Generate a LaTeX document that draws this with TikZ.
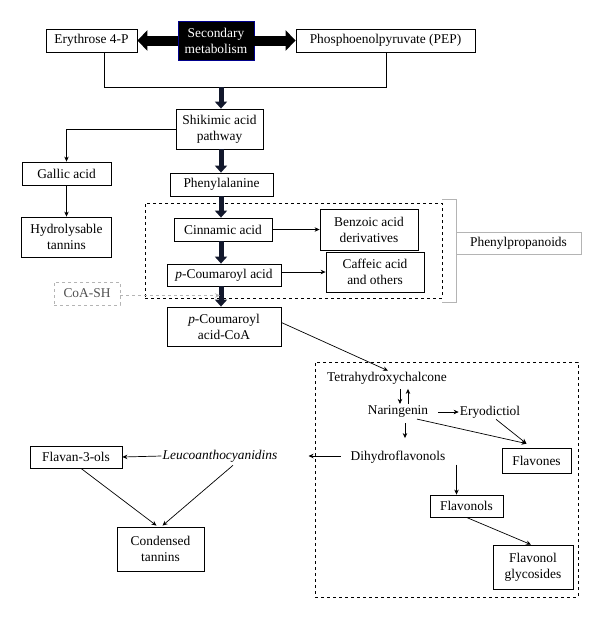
\documentclass[tikz,border=0pt]{standalone}
\usepackage{fontspec}
\setmainfont{Liberation Serif}
\usetikzlibrary{arrows.meta,calc}
\definecolor{navy}{RGB}{18,24,44}
\definecolor{lgray}{RGB}{180,180,180}
\definecolor{dgray}{RGB}{80,80,80}
\begin{document}
\begin{tikzpicture}[x=1pt,y=-1pt,
  font=\fontsize{13.4}{16}\selectfont,
  bx/.style={draw, line width=0.8pt, inner sep=0pt, align=center},
  lbl/.style={inner sep=1pt, align=center},
  arr/.style={-{Stealth[length=5pt,width=4.5pt]}, line width=0.7pt},
  fat/.style={line width=5pt, draw=navy, -{Triangle[length=7pt,width=12pt]}},
  huge/.style={line width=10pt, draw=black, -{Triangle[length=10pt,width=20pt]}},
  dbox/.style={draw, dashed, line width=0.7pt, inner sep=0pt}
]
\fill[white] (0,0) rectangle (600,619);
\useasboundingbox (0,0) rectangle (600,619);

% top row
\node[bx, minimum width=91pt, minimum height=23pt] (ery) at (91.5,40.5) {Erythrose 4-P};
\node[bx, minimum width=179pt, minimum height=23pt] (pep) at (385.5,40.5) {Phosphoenolpyruvate (PEP)};
\node[draw=blue!55!black, line width=0.8pt, fill=black, text=white, inner sep=0pt, align=center,
      minimum width=76pt, minimum height=39pt] (sec) at (216,40.5) {Secondary\\metabolism};
\draw[huge] (sec.west) -- (ery.east);
\draw[huge] (sec.east) -- (pep.west);

% join
\coordinate (jl) at (104,87);
\coordinate (jm) at (221,87);
\coordinate (jr) at (386,87);
\draw[line width=0.7pt] (jl |- ery.south) -- (jl) -- (jr) -- (jr |- pep.south);

\node[bx, minimum width=87pt, minimum height=40pt] (shik) at (219.5,129) {Shikimic acid\\pathway};
\draw[fat] (jm) -- (jm |- shik.north);

\node[bx, minimum width=89pt, minimum height=23pt] (gallic) at (66.5,173.5) {Gallic acid};
\node[bx, minimum width=90pt, minimum height=40pt] (hydro) at (66.5,237) {Hydrolysable\\tannins};
\draw[arr] (shik.west) -| (gallic.north);
\draw[arr] (gallic.south) -- (hydro.north);

\node[bx, minimum width=103pt, minimum height=23pt] (phe) at (221.5,184.5) {Phenylalanine};
\draw[fat] (jm |- shik.south) -- (jm |- phe.north);

% phenylpropanoids
\node[dbox, minimum width=297pt, minimum height=95pt] (pp) at (293.5,250.5) {};
\node[bx, minimum width=98pt, minimum height=23pt] (cinn) at (223,229.5) {Cinnamic acid};
\node[bx, minimum width=98pt, minimum height=41pt] (benz) at (369,229.5) {Benzoic acid\\derivatives};
\node[bx, minimum width=114pt, minimum height=22pt] (pcou) at (224,275) {\textit{p}-Coumaroyl acid};
\node[bx, minimum width=98pt, minimum height=40pt] (caff) at (375,272) {Caffeic acid\\and others};
\draw[fat] (jm |- phe.south) -- (jm |- cinn.north);
\draw[fat] (jm |- cinn.south) -- (jm |- pcou.north);
\draw[arr] (cinn.east) -- (benz.west);
\draw[arr] (pcou.east |- caff.west) -- (caff.west);

\node[draw=lgray, line width=0.8pt, inner sep=0pt, minimum width=125pt, minimum height=22pt] (pplab) at (518.5,243) {Phenylpropanoids};
\coordinate (bt) at (456,199);
\coordinate (bb) at (456,302);
\draw[lgray, line width=0.8pt] (pp.east |- bt) -- (bt) -- (bb) -- (pp.east |- bb);

\node[draw=lgray, dashed, line width=0.8pt, inner sep=0pt, text=dgray, minimum width=66pt, minimum height=23pt] (coa) at (87,293.5) {CoA-SH};
\node[bx, minimum width=114pt, minimum height=39pt] (pcoa) at (224,326.5) {\textit{p}-Coumaroyl\\acid-CoA};
\draw[fat] (jm |- pcou.south) -- (jm |- pcoa.north);
\draw[lgray, dashed, line width=0.7pt, -{Stealth[length=5pt,width=4.5pt]}] ($(coa.east)+(0,2)$) -- ($(jm |- coa.east)+(-1,2)$);

% flavonoid box
\node[dbox, minimum width=263pt, minimum height=235pt] (fl) at (446.5,479.5) {};
\node[lbl] (tetra) at (387,378) {Tetrahydroxychalcone};
\node[lbl] (nar) at (398,412) {Naringenin};
\node[lbl] (eryo) at (490,412) {Eryodictiol};
\node[bx, minimum width=69pt, minimum height=25pt] (flavones) at (536.5,460.5) {Flavones};
\node[lbl] (dihy) at (398,457) {Dihydroflavonols};
\node[bx, minimum width=73pt, minimum height=22pt] (flavonols) at (466.5,506) {Flavonols};
\node[bx, minimum width=80pt, minimum height=44pt] (flgly) at (533,567) {Flavonol\\glycosides};

\draw[arr] ($(pcoa.east)+(0,-4)$) -- ($(tetra.north)+(1,0)$);
\draw[arr] ($(nar.north)+(2,-16)$) -- ($(nar.north)+(2,-1)$);
\draw[arr] ($(nar.north)+(10,-1)$) -- ($(nar.north)+(10,-16)$);
\draw[arr] ($(nar.east)+(9,0)$) -- (eryo.west);
\draw[arr] ($(nar.south)+(19,0)$) -- ($(flavones.north)+(-10,-4)$);
\draw[arr] ($(eryo.south)+(6,0)$) -- ($(flavones.north)+(-10,-4)$);
\draw[arr] ($(nar.south)+(7,4)$) -- ($(nar.south)+(7,19)$);
\draw[arr] ($(flavonols.north)+(-10,-30)$) -- (flavonols.north -| {$(flavonols.north)+(-10,0)$});
\draw[arr] (flavonols.south) -- ($(flgly.north)+(-2,0)$);

% left part
\node[lbl] (leuco) at (220,456) {\textit{Leucoanthocyanidins}};
\node[bx, minimum width=92pt, minimum height=22pt] (flavan) at (76,457) {Flavan-3-ols};
\node[bx, minimum width=87pt, minimum height=44pt] (cond) at (160.5,549) {Condensed\\tannins};
\draw[arr] ($(dihy.west)+(-9,-1)$) -- ($(dihy.west)+(-41,-1)$);
\draw[arr] (leuco.west) -- (flavan.east);
\draw[arr] ($(flavan.south)+(5,0)$) -- ($(cond.north)+(-4,-1)$);
\draw[arr] ($(leuco.south)+(13,2)$) -- ($(cond.north)+(2,-1)$);
\end{tikzpicture}
\end{document}
